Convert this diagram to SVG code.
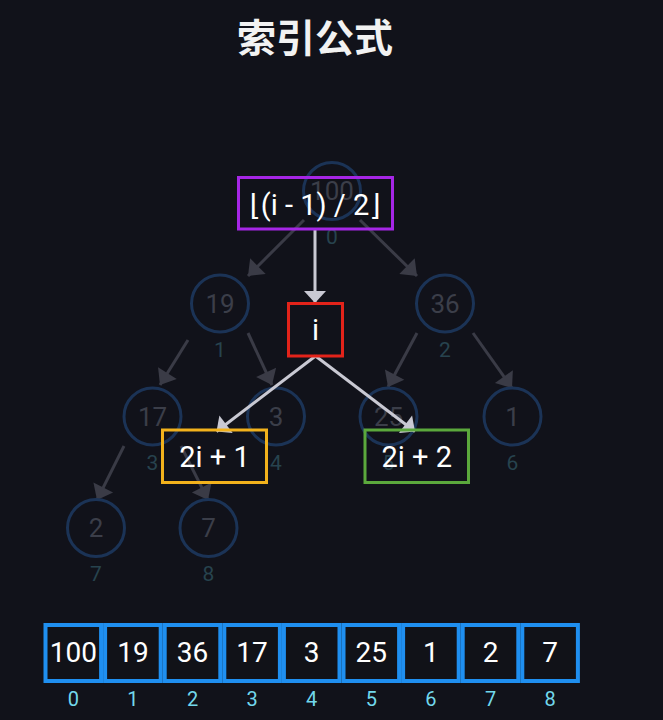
<svg xmlns="http://www.w3.org/2000/svg" width="663" height="720" viewBox="0 0 663 720">
<style>
.bg{fill:#11121a}
.title{font-family:"Noto Sans CJK SC","Noto Sans",sans-serif;font-weight:bold;font-size:39px;fill:#f2f2f2;text-anchor:middle}
.tn circle{fill:none;stroke:#1b3356;stroke-width:3}
.tn .v{font-family:Roboto,"Liberation Sans",sans-serif;font-size:26px;fill:#3b3e49;text-anchor:middle}
.tn .ix{font-family:Roboto,"Liberation Sans",sans-serif;font-size:21px;fill:#27434e;text-anchor:middle}
.edge{stroke:#3a3b46;stroke-width:3;fill:none;marker-end:url(#ah)}
.wedge{stroke:#c9c9d3;stroke-width:3;fill:none;marker-end:url(#wh)}
.box{fill:none;stroke-width:3}
.bt{font-family:Roboto,"DejaVu Sans","Liberation Sans",sans-serif;font-size:29px;fill:#ffffff;text-anchor:middle}
.cell rect{fill:#111218;stroke:#1f8ff0;stroke-width:4}
.cell .v{font-family:Roboto,"Liberation Sans",sans-serif;font-size:28px;fill:#ffffff;text-anchor:middle}
.cell .ix{font-family:Roboto,"Liberation Sans",sans-serif;font-size:20px;fill:#72d8ec;text-anchor:middle}
</style>
<defs>
<marker id="ah" markerUnits="userSpaceOnUse" viewBox="-15 -12 16 24" markerWidth="16" markerHeight="24" refX="0" refY="0" orient="auto">
<path d="M0,0 L-14,-11 L-14,11 Z" fill="#3a3b46"/>
</marker>
<marker id="wh" markerUnits="userSpaceOnUse" viewBox="-13 -12 14 24" markerWidth="14" markerHeight="24" refX="0" refY="0" orient="auto">
<path d="M0,0 L-12,-11 L-12,11 Z" fill="#c9c9d3"/>
</marker>
</defs>
<rect class="bg" x="0" y="0" width="663" height="720"/>
<text class="title" x="315" y="52">索引公式</text>

<g id="tree-edges">
<line class="edge" x1="304" y1="220" x2="248" y2="276"/>
<line class="edge" x1="360" y1="220" x2="417" y2="276"/>
<line class="edge" x1="188" y1="340" x2="160" y2="385"/>
<line class="edge" x1="248" y1="333" x2="272" y2="385"/>
<line class="edge" x1="417" y1="333" x2="388" y2="387"/>
<line class="edge" x1="473" y1="333" x2="512" y2="388"/>
<line class="edge" x1="124" y1="446" x2="97" y2="500"/>
<line class="edge" x1="181" y1="446" x2="208" y2="500"/>
</g>

<g id="n0" class="tn"><circle cx="332" cy="191" r="28.5"/><text class="v" x="332" y="200">100</text><text class="ix" x="332" y="244">0</text></g>
<g id="n1" class="tn"><circle cx="220" cy="303.5" r="28.5"/><text class="v" x="220" y="312.5">19</text><text class="ix" x="220" y="356.5">1</text></g>
<g id="n2" class="tn"><circle cx="445" cy="303.5" r="28.5"/><text class="v" x="445" y="312.5">36</text><text class="ix" x="445" y="356.5">2</text></g>
<g id="n3" class="tn"><circle cx="152.5" cy="416.5" r="28.5"/><text class="v" x="152.5" y="425.5">17</text><text class="ix" x="152.5" y="469.5">3</text></g>
<g id="n4" class="tn"><circle cx="276" cy="416.5" r="28.5"/><text class="v" x="276" y="425.5">3</text><text class="ix" x="276" y="469.5">4</text></g>
<g id="n5" class="tn"><circle cx="388.5" cy="416.5" r="28.5"/><text class="v" x="388.5" y="425.5">25</text><text class="ix" x="388.5" y="469.5">5</text></g>
<g id="n6" class="tn"><circle cx="512.5" cy="416.5" r="28.5"/><text class="v" x="512.5" y="425.5">1</text><text class="ix" x="512.5" y="469.5">6</text></g>
<g id="n7" class="tn"><circle cx="96" cy="528" r="28.5"/><text class="v" x="96" y="537">2</text><text class="ix" x="96" y="581">7</text></g>
<g id="n8" class="tn"><circle cx="208.5" cy="528" r="28.5"/><text class="v" x="208.5" y="537">7</text><text class="ix" x="208.5" y="581">8</text></g>

<g id="formula-connectors">
<line class="wedge" x1="315" y1="229" x2="315" y2="303"/>
<line class="wedge" x1="315.5" y1="356" x2="216.5" y2="431.5"/>
<line class="wedge" x1="315.5" y1="356" x2="415" y2="431.5"/>
</g>

<g id="parent-box"><rect class="box" stroke="#a626e6" x="238.5" y="177.5" width="154" height="51.5"/><text class="bt" x="315" y="215">⌊(i - 1) / 2⌋</text></g>
<g id="i-box"><rect class="box" stroke="#e3231a" x="288.5" y="303.5" width="54" height="52.5"/><text class="bt" x="315.5" y="340">i</text></g>
<g id="left-box"><rect class="box" stroke="#f2b21c" x="162.5" y="430" width="104" height="52.5"/><text class="bt" x="214.5" y="466.5">2i + 1</text></g>
<g id="right-box"><rect class="box" stroke="#5ba83c" x="365" y="430" width="103.5" height="52.5"/><text class="bt" x="416.7" y="466.5">2i + 2</text></g>

<g id="array">
<g id="c0" class="cell"><rect x="45.5" y="625" width="55.6" height="56"/><text class="v" x="73.3" y="662">100</text><text class="ix" x="73.3" y="706">0</text></g>
<g id="c1" class="cell"><rect x="105.1" y="625" width="55.6" height="56"/><text class="v" x="132.9" y="662">19</text><text class="ix" x="132.9" y="706">1</text></g>
<g id="c2" class="cell"><rect x="164.7" y="625" width="55.6" height="56"/><text class="v" x="192.5" y="662">36</text><text class="ix" x="192.5" y="706">2</text></g>
<g id="c3" class="cell"><rect x="224.3" y="625" width="55.6" height="56"/><text class="v" x="252.1" y="662">17</text><text class="ix" x="252.1" y="706">3</text></g>
<g id="c4" class="cell"><rect x="283.9" y="625" width="55.6" height="56"/><text class="v" x="311.7" y="662">3</text><text class="ix" x="311.7" y="706">4</text></g>
<g id="c5" class="cell"><rect x="343.5" y="625" width="55.6" height="56"/><text class="v" x="371.3" y="662">25</text><text class="ix" x="371.3" y="706">5</text></g>
<g id="c6" class="cell"><rect x="403.1" y="625" width="55.6" height="56"/><text class="v" x="430.9" y="662">1</text><text class="ix" x="430.9" y="706">6</text></g>
<g id="c7" class="cell"><rect x="462.7" y="625" width="55.6" height="56"/><text class="v" x="490.5" y="662">2</text><text class="ix" x="490.5" y="706">7</text></g>
<g id="c8" class="cell"><rect x="522.3" y="625" width="55.6" height="56"/><text class="v" x="550.1" y="662">7</text><text class="ix" x="550.1" y="706">8</text></g>
</g>
</svg>
